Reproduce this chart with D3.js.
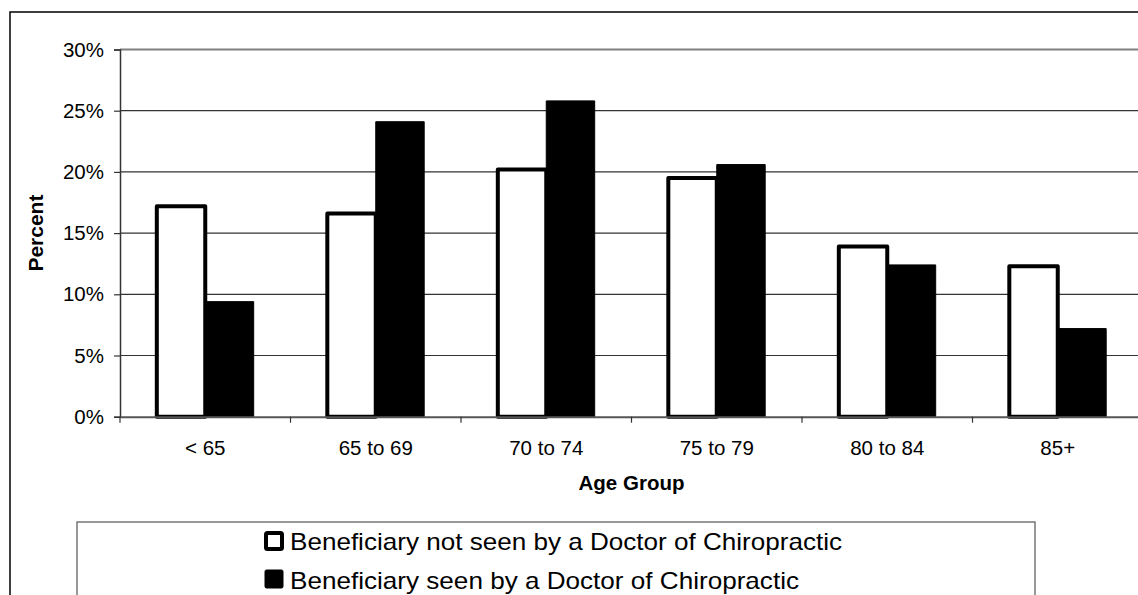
<!DOCTYPE html>
<html>
<head>
<meta charset="utf-8">
<script src="https://cdn.jsdelivr.net/npm/d3@7"></script>
<style>
    body { margin: 0; background: #fff; }
    svg { display: block; font-family: "Liberation Sans", Arial, sans-serif; }
</style>
</head>
<body>
<div id="chart"></div>
<script>
const ageGroups = ["< 65", "65 to 69", "70 to 74", "75 to 79", "80 to 84", "85+"];
const seriesNames = [
    "Beneficiary not seen by a Doctor of Chiropractic",
    "Beneficiary seen by a Doctor of Chiropractic"
];
const notSeenValues = [17.2, 16.6, 20.2, 19.5, 13.9, 12.3];
const seenValues = [9.4, 24.1, 25.8, 20.6, 12.4, 7.2];
const yTicks = [0, 5, 10, 15, 20, 25, 30];

const width = 1138;
const height = 595;

let data = ageGroups.map((g, i) => ({
    group: g,
    values: [
        { key: seriesNames[0], value: notSeenValues[i] },
        { key: seriesNames[1], value: seenValues[i] }
    ]
}));

let svg = d3
    .select("#chart")
    .append("svg")
    .attr("width", width)
    .attr("height", height);

// outer chart border (right / bottom sides fall outside the picture)
svg.append("rect")
    .attr("x", 10)
    .attr("y", 12)
    .attr("width", 1160)
    .attr("height", 620)
    .attr("fill", "none")
    .attr("stroke", "#000")
    .attr("stroke-width", 1.5);

// scales
let x0 = d3.scaleBand().domain(ageGroups).range([120, 1143]).padding(0);
let x1 = d3
    .scaleBand()
    .domain(seriesNames)
    .range([0, x0.bandwidth()])
    .paddingInner(0)
    .paddingOuter(0.76);
let y = d3.scaleLinear().domain([0, 30]).range([416.7, 49.5]);

// gridlines
svg.append("g")
    .selectAll("line")
    .data(yTicks.filter((d) => d > 0))
    .join("line")
    .attr("x1", 120)
    .attr("x2", 1143)
    .attr("y1", (d) => y(d))
    .attr("y2", (d) => y(d))
    .attr("stroke", (d) => (d === 30 ? "#808080" : "#333"))
    .attr("stroke-width", (d) => (d === 30 ? 2 : 1.2));

// bars
let groups = svg
    .append("g")
    .selectAll("g")
    .data(data)
    .join("g")
    .attr("transform", (d) => `translate(${x0(d.group)},0)`);

groups
    .selectAll("rect")
    .data((d) => d.values)
    .join("rect")
    .attr("x", (d) => x1(d.key))
    .attr("y", (d) => y(d.value))
    .attr("width", x1.bandwidth())
    .attr("height", (d) => y(0) - y(d.value))
    .attr("fill", (d, i) => (i === 0 ? "#fff" : "#000"))
    .attr("stroke", "#000")
    .attr("stroke-width", (d, i) => (i === 0 ? 4 : 1))
    .attr("stroke-linejoin", "round");

// y axis
let yAxis = d3
    .axisLeft(y)
    .tickValues(yTicks)
    .tickSize(6)
    .tickPadding(10)
    .tickFormat((d) => d + "%");
let yg = svg.append("g").attr("transform", "translate(120,0)").call(yAxis);
yg.select(".domain").attr("stroke", "#333").attr("stroke-width", 1.5);
yg.selectAll(".tick line").attr("stroke", "#333").attr("stroke-width", 1.2);
yg.selectAll(".tick text")
    .attr("font-size", "20.5px")
    .attr("font-family", "Liberation Sans, Arial, sans-serif")
    .attr("fill", "#000");

// x axis
let xAxis = d3.axisBottom(x0).tickSize(0).tickPadding(0);
let xg = svg.append("g").attr("transform", `translate(0,${y(0)})`).call(xAxis);
xg.select(".domain").attr("stroke", "#555").attr("stroke-width", 2);
xg.selectAll(".tick text")
    .attr("font-size", "20.5px")
    .attr("font-family", "Liberation Sans, Arial, sans-serif")
    .attr("fill", "#000")
    .attr("dy", null)
    .attr("y", 38);

// category boundary ticks
svg.append("g")
    .selectAll("line")
    .data(ageGroups)
    .join("line")
    .attr("x1", (d) => x0(d))
    .attr("x2", (d) => x0(d))
    .attr("y1", y(0))
    .attr("y2", y(0) + 6)
    .attr("stroke", "#333")
    .attr("stroke-width", 1.2);

// axis titles
svg.append("text")
    .text("Percent")
    .attr("font-size", "21px")
    .attr("font-weight", "bold")
    .attr("text-anchor", "middle")
    .attr("transform", `translate(43,${(y(0) + y(30)) / 2}) rotate(-90)`);

svg.append("text")
    .text("Age Group")
    .attr("font-size", "20.5px")
    .attr("font-weight", "bold")
    .attr("text-anchor", "middle")
    .attr("x", (120 + 1143) / 2)
    .attr("y", 490);

// legend
let legend = svg.append("g");
legend
    .append("rect")
    .attr("x", 77)
    .attr("y", 522)
    .attr("width", 958)
    .attr("height", 120)
    .attr("fill", "#fff")
    .attr("stroke", "#777")
    .attr("stroke-width", 1.5);

let items = legend
    .selectAll(".item")
    .data(seriesNames)
    .join("g")
    .attr("class", "item")
    .attr("transform", (d, i) => `translate(264,${531 + i * 39})`);

items
    .append("rect")
    .attr("x", (d, i) => (i === 0 ? 2 : 1))
    .attr("y", (d, i) => (i === 0 ? 2 : 0))
    .attr("width", (d, i) => (i === 0 ? 16 : 18))
    .attr("height", (d, i) => (i === 0 ? 16 : 18))
    .attr("rx", 1.5)
    .attr("fill", (d, i) => (i === 0 ? "#fff" : "#000"))
    .attr("stroke", "#000")
    .attr("stroke-width", (d, i) => (i === 0 ? 4 : 1));

// legend text in the source is drawn wider than its height suggests
items
    .append("text")
    .text((d) => d)
    .attr("x", 26)
    .attr("y", 19)
    .attr("font-size", "24px")
    .attr("fill", "#000")
    .attr("textLength", (d, i) => (i === 0 ? 552 : 509))
    .attr("lengthAdjust", "spacingAndGlyphs");
</script>
</body>
</html>
